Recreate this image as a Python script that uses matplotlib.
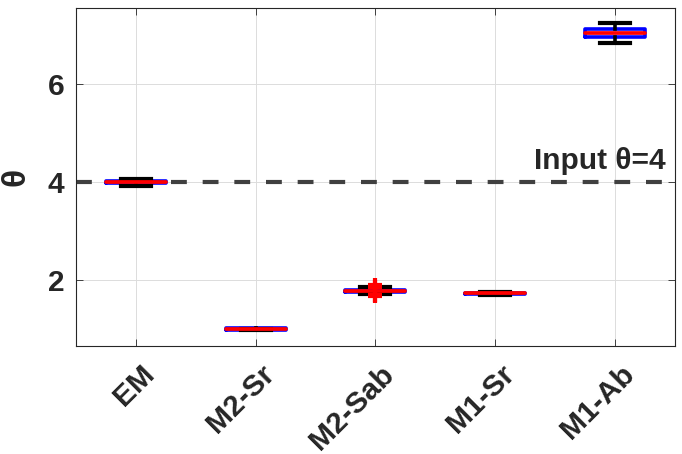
import matplotlib
matplotlib.use('Agg')
import matplotlib.pyplot as plt
import matplotlib.transforms as mtrans

# box summary per method
methods = ['EM', 'M2-Sr', 'M2-Sab', 'M1-Sr', 'M1-Ab']
medians = [4.00, 1.00, 1.78, 1.735, 7.04]
q1 = [3.975, 0.98, 1.76, 1.72, 6.96]
q3 = [4.025, 1.02, 1.80, 1.75, 7.125]
whis_lo = [3.93, 0.985, 1.72, 1.70, 6.84]
whis_hi = [4.07, 1.015, 1.86, 1.77, 7.24]
outliers = [[], [], [1.67, 1.70, 1.86, 1.90], [], []]
input_theta = 4

plt.rcParams['font.family'] = ['Liberation Sans', 'DejaVu Sans']
plt.rcParams['font.weight'] = 'bold'
txt_col = '#262626'
fs = 21.5

fig = plt.figure(figsize=(6.82, 4.54), dpi=100)
ax = fig.add_axes([0.111, 0.238, 0.879, 0.744])

stats = []
for i in range(len(methods)):
    stats.append(dict(med=medians[i], q1=q1[i], q3=q3[i],
                      whislo=whis_lo[i], whishi=whis_hi[i],
                      fliers=outliers[i], label=methods[i]))

pos = list(range(1, len(methods) + 1))
ax.bxp(stats, positions=pos, widths=0.5, capwidths=0.25,
       boxprops=dict(color='#0000ff', linewidth=2.6,
                     solid_joinstyle='round', solid_capstyle='round'),
       medianprops=dict(color='#ff0000', linewidth=2.7,
                        solid_capstyle='round'),
       whiskerprops=dict(color='black', linewidth=2.6),
       capprops=dict(color='black', linewidth=3.0),
       flierprops=dict(marker='+', markeredgecolor='#ff0000',
                       markersize=10, markeredgewidth=3.0),
       zorder=3)

ax.axhline(input_theta, color='#404040', linewidth=3.0,
           linestyle=(0, (3.8, 3.8)), zorder=2)
ax.text(5.42, 4.27, 'Input θ=4', ha='right', va='baseline',
        fontsize=fs, fontweight='bold', color=txt_col)

ax.set_xlim(0.5, 5.5)
ax.set_ylim(0.66, 7.55)
ax.set_yticks([2, 4, 6])
ax.set_xticks(pos)
ax.set_xticklabels([])
ax.tick_params(direction='in', length=5, width=0.6, top=True, right=True,
               colors=txt_col, labelcolor=txt_col)
ax.tick_params(axis='y', labelsize=fs, pad=8)

# rotated category labels, placed like the original
lbl_tr = (ax.get_xaxis_transform()
          + mtrans.ScaledTranslation(0.045, -0.14, fig.dpi_scale_trans))
for p, name in zip(pos, methods):
    ax.text(p, 0, name, transform=lbl_tr, rotation=45, ha='right', va='top',
            rotation_mode='anchor', fontsize=fs, fontweight='bold',
            color=txt_col, clip_on=False)

ax.set_ylabel('θ', fontsize=24, fontweight='bold', color=txt_col, labelpad=12)

ax.grid(True, color='#dcdcdc', linewidth=0.7)
ax.set_axisbelow(True)
for s in ax.spines.values():
    s.set_color(txt_col)
    s.set_linewidth(0.8)

fig.savefig('out.png', dpi=100)
